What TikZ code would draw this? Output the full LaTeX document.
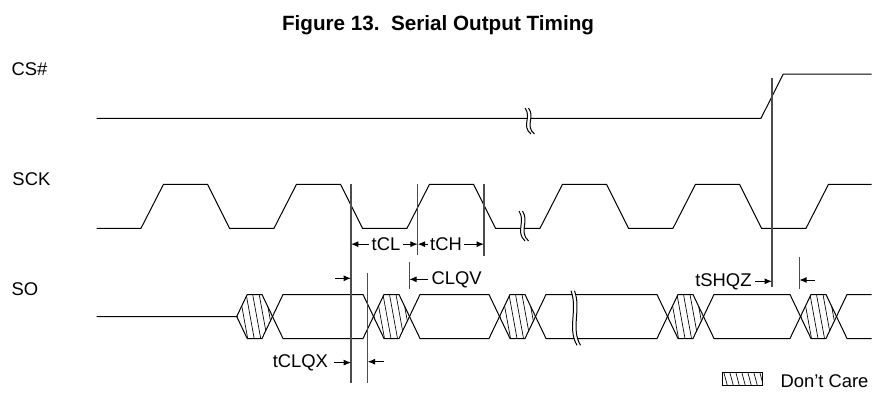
\documentclass[tikz,border=0pt]{standalone}
\usepackage{fontspec}
\setmainfont{Liberation Sans}
\usetikzlibrary{arrows.meta}

\tikzset{every picture/.style={line width=0.75pt}}
\tikzset{
  lbl/.style={inner sep=0pt, font=\fontsize{13.8}{16}\selectfont},
  guide/.style={draw=black!70, line width=0.8pt},
  dimarrow/.style={-{Latex[length=5.5pt,width=4.5pt]}},
  hatchline/.style={line width=0.5pt},
  brk/.pic={
    \fill [white] (4,-13) .. controls (-6,-5) and (5,4) .. (-2,13) -- (1.5,13) .. controls (8.5,4) and (-2.5,-5) .. (7.5,-13) -- cycle;
    \draw (4,-13) .. controls (-6,-5) and (5,4) .. (-2,13);
    \draw (7.5,-13) .. controls (-2.5,-5) and (8.5,4) .. (1.5,13);
  }
}

% hatched "don't care" cell between two SO crossings
\newcommand{\dontcare}[2]{%
  \begin{scope}
    \clip (#1+10.5,316.5) -- (#1+21,294.5) -- (#2,294.5) -- (#2+10.5,316.5) -- (#2,338.5) -- (#1+21,338.5) -- cycle;
    \foreach \h in {-6,0.5,...,50} \draw [hatchline] (#1+\h,294.5) -- (#1+\h+8,338.5);
  \end{scope}}

\begin{document}
\begin{tikzpicture}[x=0.75pt,y=0.75pt,yscale=-1,xscale=1]
\useasboundingbox (0,0) rectangle (876,397);

%CS#
\draw (96.7,118.3) -- (761,118.3) -- (783.3,74) -- (871.7,74) ;
%SCK
\draw (96.7,228.3) \foreach \k in {0,...,4}{ -- (141+133*\k,228.3) -- (163.5+133*\k,184.3) -- (207.5+133*\k,184.3) -- (229.5+133*\k,228.3) } -- (806,228.3) -- (828.5,184.3) -- (871.7,184.3) ;
%SO
\draw (96.7,316.5) -- (236.7,316.5) -- (247.2,294.5) -- (262,294.5) -- (283,338.5) -- (363,338.5) -- (384,294.5) -- (399,294.5) -- (420,338.5) -- (489,338.5) -- (510,294.5) -- (525,294.5) -- (546,338.5) -- (657,338.5) -- (678,294.5) -- (693,294.5) -- (714,338.5) -- (790,338.5) -- (811,294.5) -- (826,294.5) -- (847,338.5) -- (871.7,338.5) ;
\draw (236.7,316.5) -- (247.2,338.5) -- (262,338.5) -- (283,294.5) -- (363,294.5) -- (384,338.5) -- (399,338.5) -- (420,294.5) -- (489,294.5) -- (510,338.5) -- (525,338.5) -- (546,294.5) -- (657,294.5) -- (678,338.5) -- (693,338.5) -- (714,294.5) -- (790,294.5) -- (811,338.5) -- (826,338.5) -- (847,294.5) -- (871.7,294.5) ;
%Don't care cells
\dontcare{226.2}{262}
\dontcare{363}{399}
\dontcare{489}{525}
\dontcare{657}{693}
\dontcare{790}{826}

%Breaks
\pic at (527,121) {brk};
\pic [yscale=1.15] at (521,226) {brk};
\pic [yscale=2.1] at (573,318) {brk};

%Timing guides
\draw [guide] (351,184.3) -- (351,383.3) ;
\draw [guide] (417.7,184.3) -- (417.7,255) ;
\draw [guide] (484,184.3) -- (484,256) ;
\draw [guide] (409.3,261.7) -- (409.3,289.3) ;
\draw [guide] (367.7,272.7) -- (367.7,383.3) ;
\draw [guide] (772,78.3) -- (772,287) ;
\draw [guide] (799.3,256.7) -- (799.3,289.3) ;

% Text Node
\node (title) [font=\fontsize{15.5}{18}\selectfont\bfseries, anchor=base] at (438,30) {Figure 13.\ \ Serial Output Timing};
% Text Node
\node (cs) [lbl, anchor=base west] at (11,75) {CS\#};
% Text Node
\node (sck) [lbl, anchor=base west] at (12,185) {SCK};
% Text Node
\node (so) [lbl, anchor=base west] at (11,295) {SO};
% Text Node
\node (tcl) [lbl, anchor=base] at (386,250.5) {tCL};
% Text Node
\node (tch) [lbl, anchor=base] at (446,250.5) {tCH};
% Text Node
\node (clqv) [lbl, anchor=base west] at (431,284) {CLQV};
% Text Node
\node (tclqx) [lbl, anchor=base east] at (328.5,367.3) {tCLQX};
% Text Node
\node (tshqz) [lbl, anchor=base east] at (752,286) {tSHQZ};
% Text Node
\node (dc) [lbl, anchor=base west] at (780,387.3) {Don't Care};

%Dimension arrows
\coordinate (fall1) at (351,245);
\coordinate (rise2) at (417.7,245);
\coordinate (fall2) at (484,245);
\draw [dimarrow] ([xshift=-1.5]tcl.west) -- (tcl.west -| fall1) ;
\draw [dimarrow] ([xshift=1.5]tcl.east) -- (tcl.east -| rise2) ;
\draw [dimarrow] ([xshift=-1.5]tch.west) -- (tch.west -| rise2) ;
\draw [dimarrow] ([xshift=1.5]tch.east) -- (tch.east -| fall2) ;
\coordinate (qv1) at (351,278.3);
\coordinate (qv0) at (335,278.3);
\coordinate (qv2) at (409.3,278.3);
\draw [dimarrow] (qv0) -- (qv1) ;
\draw [dimarrow] ([xshift=-2]clqv.west) -- (clqv.west -| qv2) ;
\coordinate (qx1) at (351,361.7);
\coordinate (qx2) at (367.7,361.7);
\coordinate (qx3) at (384,361.7);
\draw [dimarrow] ([xshift=4]tclqx.east) -- (tclqx.east -| qx1) ;
\draw [dimarrow] (qx3) -- (qx2) ;
\coordinate (hz1) at (772,280);
\coordinate (hz2) at (799.3,280);
\coordinate (hz3) at (815,280);
\draw [dimarrow] ([xshift=2.5]tshqz.east) -- (tshqz.east -| hz1) ;
\draw [dimarrow] (hz3) -- (hz2) ;

%Legend
\begin{scope}
  \clip (722.7,372) rectangle (762.7,385);
  \foreach \h in {-5,1,...,45} \draw [hatchline] (722.7+\h,372) -- (726.2+\h,385);
\end{scope}
\draw [line width=0.6pt] (722.7,372) rectangle (762.7,385) ;

\end{tikzpicture}
\end{document}
